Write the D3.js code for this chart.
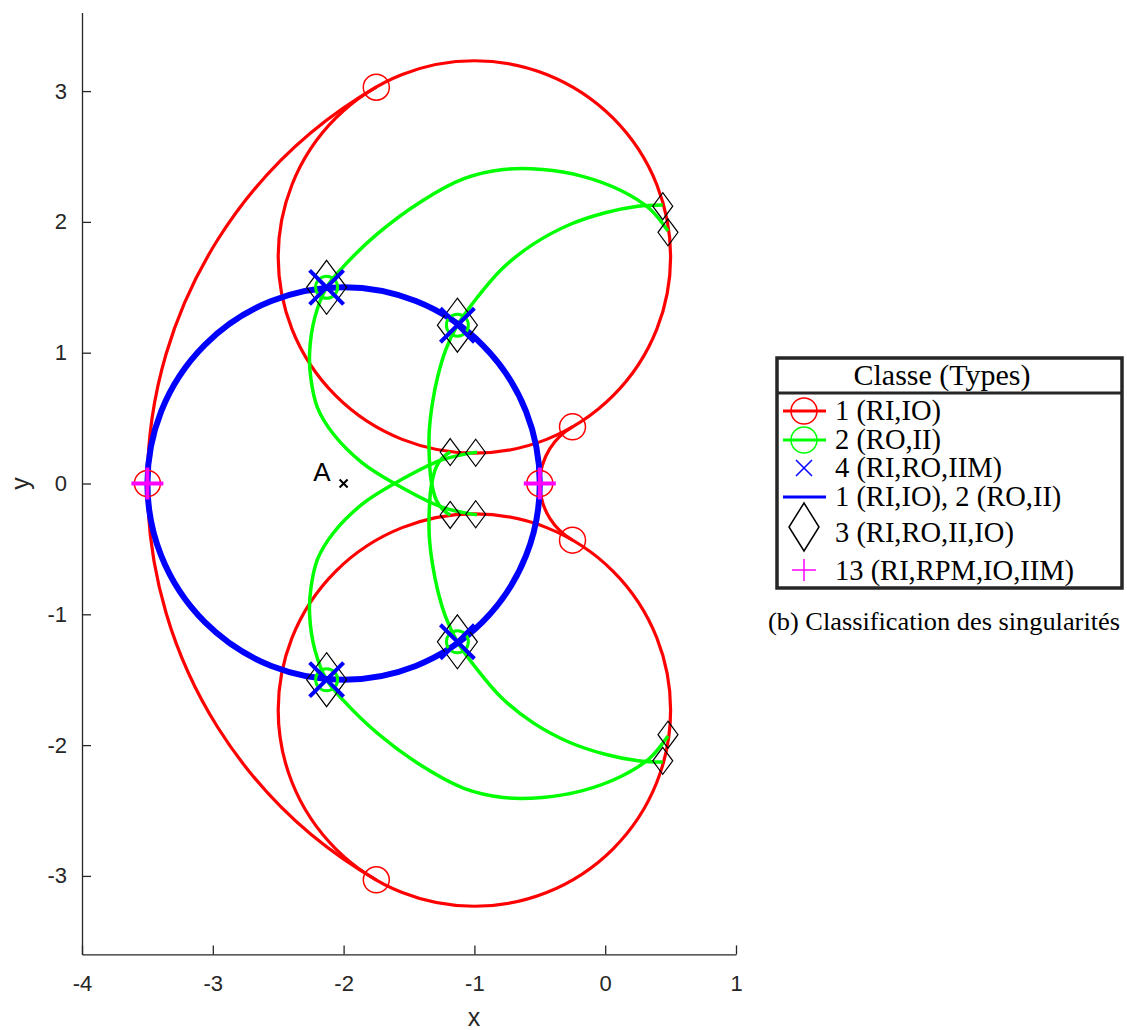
<!DOCTYPE html>
<html><head><meta charset="utf-8">
<script src="https://cdn.jsdelivr.net/npm/d3@7"></script>
<style>body{margin:0;background:#fff}svg{display:block}</style>
</head><body>
<svg id="c" width="1127" height="1030"></svg>
<script>
// ---- data ----
const xTicks = [-4, -3, -2, -1, 0, 1];
const yTicks = [-3, -2, -1, 0, 1, 2, 3];
// red (class 1) full circles: centre + radius
const redCircles = [
  {cx: -1, cy: 1.732, r: 1.5},
  {cx: -1, cy: -1.732, r: 1.5}
];
// red arcs centred on origin (degrees)
const redArcs = [
  {cx: 0, cy: 0, r: 3.5, a0: 120, a1: 240},
  {cx: 0, cy: 0, r: 0.5, a0: 120, a1: 240}
];
// blue circle (class 1 & 2)
const blueCircles = [{cx: -2, cy: 0, r: 1.5}];
// green (class 2) curves
const greenUpperA = [[0.48,1.93],[0.34,2.10],[0.12,2.24],[-0.18,2.35],[-0.48,2.40],[-0.78,2.40],[-1.08,2.33],[-1.40,2.16],[-1.74,1.91],[-2.00,1.66],[-2.13,1.50],[-2.22,1.27],[-2.26,1.00],[-2.25,0.80],[-2.20,0.58],[-2.08,0.38],[-1.86,0.16],[-1.61,0.00],[-1.25,-0.18],[-0.98,-0.24]];
const greenLowerA = [[0.48,-1.93],[0.34,-2.10],[0.12,-2.24],[-0.18,-2.35],[-0.48,-2.40],[-0.78,-2.40],[-1.08,-2.33],[-1.40,-2.16],[-1.74,-1.91],[-2.00,-1.66],[-2.13,-1.50],[-2.22,-1.27],[-2.26,-1.00],[-2.25,-0.80],[-2.20,-0.58],[-2.08,-0.38],[-1.86,-0.16],[-1.61,0.00],[-1.25,0.18],[-0.98,0.24]];
const greenUpperB = [[0.44,2.13],[0.25,2.12],[0.00,2.07],[-0.27,1.98],[-0.55,1.83],[-0.79,1.64],[-0.98,1.42],[-1.13,1.21],[-1.22,1.02],[-1.28,0.82],[-1.32,0.62],[-1.345,0.40],[-1.345,0.20],[-1.33,0.02],[-1.29,-0.13],[-1.24,-0.20],[-1.185,-0.24]];
const greenLowerB = [[0.44,-2.13],[0.25,-2.12],[0.00,-2.07],[-0.27,-1.98],[-0.55,-1.83],[-0.79,-1.64],[-0.98,-1.42],[-1.13,-1.21],[-1.22,-1.02],[-1.28,-0.82],[-1.32,-0.62],[-1.345,-0.40],[-1.345,-0.20],[-1.33,-0.02],[-1.29,0.13],[-1.24,0.20],[-1.185,0.24]];
// singular points
const class1Pts = [[-1.75,3.03],[-1.75,-3.03],[-0.25,0.433],[-0.25,-0.433],[-3.5,0],[-0.5,0]];
const class2Pts = [[-2.13,1.50],[-1.13,1.21],[-2.13,-1.50],[-1.13,-1.21]];
const class4Pts = [[-2.13,1.50],[-1.13,1.21],[-2.13,-1.50],[-1.13,-1.21]];
const class3BigPts = [[-2.13,1.50],[-1.13,1.21],[-2.13,-1.50],[-1.13,-1.21]];
const class3Pts = [[0.44,2.12],[0.48,1.92],[0.44,-2.12],[0.48,-1.92],[-1.185,0.24],[-0.99,0.235],[-1.185,-0.24],[-0.99,-0.235]];
const class13Pts = [[-3.5,0],[-0.5,0]];
const pointA = [-2, 0];
const legendTitle = "Classe (Types)";
const legendLabels = ["1 (RI,IO)", "2 (RO,II)", "4 (RI,RO,IIM)", "1 (RI,IO), 2 (RO,II)", "3 (RI,RO,II,IO)", "13 (RI,RPM,IO,IIM)"];
const caption = "(b)  Classification des singularités";

// ---- drawing ----
const svg = d3.select("#c");
const x = d3.scaleLinear().domain([-4, 1]).range([82, 736]);
const y = d3.scaleLinear().domain([-3.6, 3.6]).range([954.4, 12.6]);
const k = x(1) - x(0);
const axisCol = "#262626";
const fmt = d => String(d);

// axes
const gx = svg.append("g").attr("transform", `translate(0,${y(-3.6)})`)
  .call(d3.axisBottom(x).tickValues(xTicks).tickSizeInner(-9).tickSizeOuter(0).tickPadding(21).tickFormat(fmt));
const gy = svg.append("g").attr("transform", `translate(${x(-4)},0)`)
  .call(d3.axisLeft(y).tickValues(yTicks).tickSizeInner(-9).tickSizeOuter(0).tickPadding(15).tickFormat(fmt));
[gx, gy].forEach(g => {
  g.selectAll("path,line").attr("stroke", axisCol).attr("stroke-width", 1.3);
  g.selectAll("text").attr("fill", axisCol).attr("font-family", "Liberation Sans, Arial, sans-serif").attr("font-size", 22);
});
svg.append("text").attr("x", 474).attr("y", 1026).attr("text-anchor", "middle")
  .attr("font-family", "Liberation Sans, Arial, sans-serif").attr("font-size", 25).attr("fill", axisCol).text("x");
svg.append("text").attr("transform", `translate(29,${y(0)}) rotate(-90)`).attr("text-anchor", "middle")
  .attr("font-family", "Liberation Sans, Arial, sans-serif").attr("font-size", 25).attr("fill", axisCol).text("y");

const plot = svg.append("g");
// red circles
plot.selectAll(".rc").data(redCircles).join("circle")
  .attr("cx", d => x(d.cx)).attr("cy", d => y(d.cy)).attr("r", d => d.r * k)
  .attr("fill", "none").attr("stroke", "#ff0000").attr("stroke-width", 3.2);
// red arcs
plot.selectAll(".ra").data(redArcs).join("path")
  .attr("d", d => {
    const p = d3.path();
    const a0 = -d.a0 * Math.PI / 180, a1 = -d.a1 * Math.PI / 180;
    p.moveTo(x(d.cx) + d.r * k * Math.cos(a0), y(d.cy) + d.r * k * Math.sin(a0));
    p.arc(x(d.cx), y(d.cy), d.r * k, a0, a1, true);
    return p.toString();
  })
  .attr("fill", "none").attr("stroke", "#ff0000").attr("stroke-width", 3.2);
// green curves
const line = d3.line().x(d => x(d[0])).y(d => y(d[1])).curve(d3.curveCatmullRom.alpha(0.5));
plot.selectAll(".g").data([greenUpperA, greenLowerA, greenUpperB, greenLowerB]).join("path")
  .attr("d", line).attr("fill", "none").attr("stroke", "#00ff00").attr("stroke-width", 3.5);
// blue circle
plot.selectAll(".bc").data(blueCircles).join("circle")
  .attr("cx", d => x(d.cx)).attr("cy", d => y(d.cy)).attr("r", d => d.r * k)
  .attr("fill", "none").attr("stroke", "#0000ff").attr("stroke-width", 6);

// markers
const diamond = (hw, hh) => `M0,${-hh}L${hw},0L0,${hh}L${-hw},0Z`;
plot.selectAll(".d3s").data(class3Pts).join("path")
  .attr("transform", d => `translate(${x(d[0])},${y(d[1])})`).attr("d", diamond(10, 13.5))
  .attr("fill", "none").attr("stroke", "#000").attr("stroke-width", 1.2);
plot.selectAll(".d3b").data(class3BigPts).join("path")
  .attr("transform", d => `translate(${x(d[0])},${y(d[1])})`).attr("d", diamond(20, 27))
  .attr("fill", "none").attr("stroke", "#000").attr("stroke-width", 1.2);
plot.selectAll(".m1").data(class1Pts).join("circle")
  .attr("cx", d => x(d[0])).attr("cy", d => y(d[1])).attr("r", 13)
  .attr("fill", "none").attr("stroke", "#ff0000").attr("stroke-width", 1.5);
plot.selectAll(".m2").data(class2Pts).join("circle")
  .attr("cx", d => x(d[0])).attr("cy", d => y(d[1])).attr("r", 11)
  .attr("fill", "none").attr("stroke", "#00ff00").attr("stroke-width", 3);
plot.selectAll(".m4").data(class4Pts).join("path")
  .attr("transform", d => `translate(${x(d[0])},${y(d[1])})`).attr("d", "M-17,-17L17,17M-17,17L17,-17")
  .attr("fill", "none").attr("stroke", "#0000ff").attr("stroke-width", 4);
plot.selectAll(".m13").data(class13Pts).join("path")
  .attr("transform", d => `translate(${x(d[0])},${y(d[1])})`).attr("d", "M-16,0L16,0M0,-16L0,16")
  .attr("fill", "none").attr("stroke", "#ff00ff").attr("stroke-width", 4);
// point A
plot.append("path").attr("transform", `translate(${x(pointA[0])},${y(pointA[1])})`)
  .attr("d", "M-4,-4L4,4M-4,4L4,-4").attr("stroke", "#000").attr("stroke-width", 2);
plot.append("text").attr("x", x(pointA[0]) - 13).attr("y", y(pointA[1]) - 3).attr("text-anchor", "end")
  .attr("font-family", "Liberation Sans, Arial, sans-serif").attr("font-size", 26).attr("fill", "#000").text("A");

// legend
const lg = svg.append("g");
const serif = "Liberation Serif, Times New Roman, serif";
lg.append("rect").attr("x", 777).attr("y", 358).attr("width", 345).attr("height", 230)
  .attr("fill", "#fff").attr("stroke", axisCol).attr("stroke-width", 3.5);
lg.append("line").attr("x1", 777).attr("x2", 1122).attr("y1", 393).attr("y2", 393).attr("stroke", axisCol).attr("stroke-width", 3);
lg.append("text").attr("x", 942).attr("y", 385).attr("text-anchor", "middle").attr("font-family", serif)
  .attr("font-size", 30).attr("fill", "#000").text(legendTitle);
const rowsY = [411, 440, 468, 497, 527, 570];
const baseY = [420, 449, 477, 506, 542, 580];
lg.selectAll(".lt").data(legendLabels).join("text")
  .attr("x", 835).attr("y", (d, i) => baseY[i]).attr("font-family", serif).attr("font-size", 28.5)
  .attr("fill", "#000").text(d => d);
const sx = 804;
// row 0 red
lg.append("line").attr("x1", 783).attr("x2", 826).attr("y1", rowsY[0]).attr("y2", rowsY[0]).attr("stroke", "#ff0000").attr("stroke-width", 3);
lg.append("circle").attr("cx", sx).attr("cy", rowsY[0]).attr("r", 13).attr("fill", "none").attr("stroke", "#ff0000").attr("stroke-width", 1.5);
// row 1 green
lg.append("line").attr("x1", 783).attr("x2", 826).attr("y1", rowsY[1]).attr("y2", rowsY[1]).attr("stroke", "#00ff00").attr("stroke-width", 3);
lg.append("circle").attr("cx", sx).attr("cy", rowsY[1]).attr("r", 13).attr("fill", "none").attr("stroke", "#00ff00").attr("stroke-width", 1.5);
// row 2 blue x
lg.append("path").attr("transform", `translate(${sx},${rowsY[2]})`).attr("d", "M-8,-8L8,8M-8,8L8,-8").attr("stroke", "#0000ff").attr("stroke-width", 1.5);
// row 3 blue line
lg.append("line").attr("x1", 783).attr("x2", 826).attr("y1", rowsY[3]).attr("y2", rowsY[3]).attr("stroke", "#0000ff").attr("stroke-width", 3);
// row 4 diamond
lg.append("path").attr("transform", `translate(${sx},${rowsY[4]})`).attr("d", diamond(15, 24)).attr("fill", "none").attr("stroke", "#000").attr("stroke-width", 1.5);
// row 5 magenta plus
lg.append("path").attr("transform", `translate(${sx},${rowsY[5]})`).attr("d", "M-12,0L12,0M0,-11L0,11").attr("stroke", "#ff00ff").attr("stroke-width", 1.5);
// caption
svg.append("text").attr("x", 768).attr("y", 630).attr("font-family", serif).attr("font-size", 26).attr("fill", "#000")
  .attr("textLength", 352).attr("lengthAdjust", "spacingAndGlyphs").text(caption);
</script>
</body></html>
